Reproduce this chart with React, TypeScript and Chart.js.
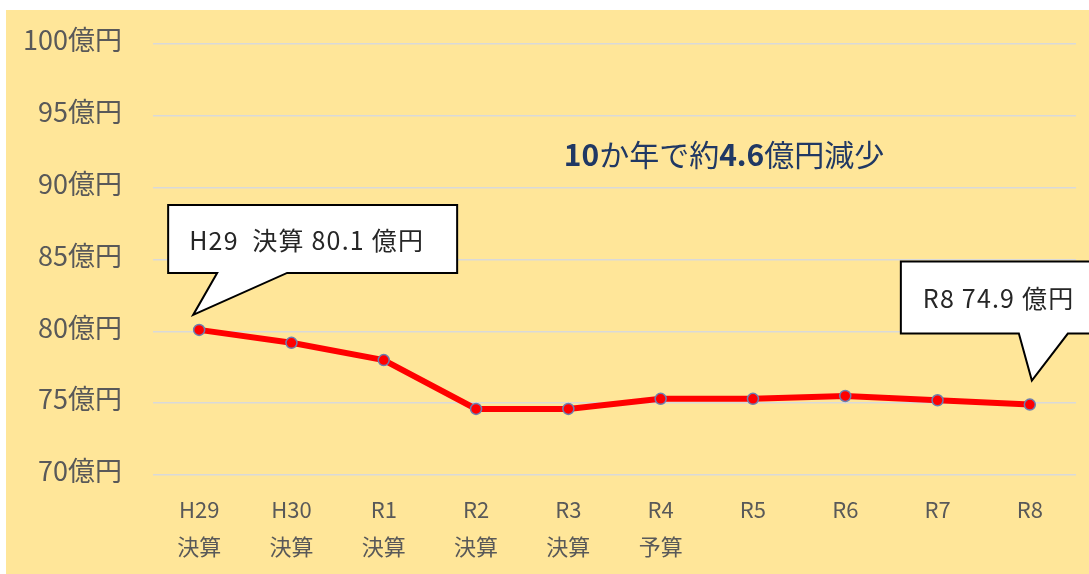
import React, { useEffect, useRef } from 'react';
import { Chart, registerables } from 'chart.js';

Chart.register(...registerables);

// ---- data ----
const categories: string[][] = [
  ['H29', '決算'],
  ['H30', '決算'],
  ['R1', '決算'],
  ['R2', '決算'],
  ['R3', '決算'],
  ['R4', '予算'],
  ['R5'],
  ['R6'],
  ['R7'],
  ['R8'],
];
const values: number[] = [80.1, 79.2, 78.0, 74.6, 74.6, 75.3, 75.3, 75.5, 75.2, 74.9];
const yMin = 70;
const yMax = 100;
const yStep = 5;
const yUnit = '億円';
const titleSegments = [
  { text: '10', bold: true },
  { text: 'か年で約', bold: false },
  { text: '4.6', bold: true },
  { text: '億円減少', bold: false },
];
const calloutIndices = [0, 9];
const calloutTexts = ['H29  決算 80.1 億円', 'R8 74.9 億円'];

const FONT = "'Noto Sans CJK JP', 'Noto Sans', sans-serif";

// callout geometry relative to the anchored data point (pixels)
const calloutGeom = [
  { l: -31, r: 258, t: -125, b: -57, b1: 18, b2: 88, tipX: -6, tipY: -15, tx: -10, ty: -89 },
  { l: -129, r: 80, t: -143, b: -71, b1: -11, b2: 38, tipX: 2, tipY: -24, tx: -107, ty: -106 },
];

const annotationPlugin = {
  id: 'annotations',
  afterDraw(chart: any) {
    const { ctx, chartArea, scales } = chart;
    const x = scales.x;
    const y = scales.y;
    ctx.save();
    // title text
    let total = 0;
    const widths = titleSegments.map((s) => {
      ctx.font = `${s.bold ? 'bold ' : ''}30px ${FONT}`;
      const w = ctx.measureText(s.text).width;
      total += w;
      return w;
    });
    let cx = chartArea.left + 571 - total / 2;
    const cy = chartArea.top + 111;
    ctx.fillStyle = '#203864';
    ctx.textBaseline = 'middle';
    ctx.textAlign = 'left';
    titleSegments.forEach((s, i) => {
      ctx.font = `${s.bold ? 'bold ' : ''}30px ${FONT}`;
      ctx.fillText(s.text, cx, cy);
      cx += widths[i];
    });

    // callouts
    calloutIndices.forEach((idx, i) => {
      const g = calloutGeom[i];
      const px = x.getPixelForValue(idx);
      const py = y.getPixelForValue(values[idx]);
      ctx.beginPath();
      ctx.moveTo(px + g.l, py + g.t);
      ctx.lineTo(px + g.r, py + g.t);
      ctx.lineTo(px + g.r, py + g.b);
      ctx.lineTo(px + g.b2, py + g.b);
      ctx.lineTo(px + g.tipX, py + g.tipY);
      ctx.lineTo(px + g.b1, py + g.b);
      ctx.lineTo(px + g.l, py + g.b);
      ctx.closePath();
      ctx.fillStyle = '#ffffff';
      ctx.fill();
      ctx.lineWidth = 2;
      ctx.lineJoin = 'miter';
      ctx.strokeStyle = '#000000';
      ctx.stroke();
      ctx.fillStyle = '#262626';
      ctx.font = `25px ${FONT}`;
      (ctx as any).letterSpacing = '1.2px';
      ctx.textAlign = 'left';
      ctx.textBaseline = 'middle';
      ctx.fillText(calloutTexts[i], px + g.tx, py + g.ty);
      (ctx as any).letterSpacing = '0px';
    });
    ctx.restore();
  },
};

export default function App() {
  const canvasRef = useRef<HTMLCanvasElement | null>(null);

  useEffect(() => {
    if (!canvasRef.current) return;
    const chart = new Chart(canvasRef.current, {
      type: 'line',
      data: {
        labels: categories,
        datasets: [
          {
            data: values,
            borderColor: '#FF0000',
            borderWidth: 6,
            backgroundColor: '#FF0000',
            pointBackgroundColor: '#FF0000',
            pointBorderColor: '#6C7FB0',
            pointBorderWidth: 1.5,
            pointRadius: 5.5,
            tension: 0,
            fill: false,
          },
        ],
      },
      options: {
        responsive: false,
        animation: false,
        layout: { padding: { top: 34, right: 13, left: 0, bottom: 0 } },
        plugins: {
          legend: { display: false },
          tooltip: { enabled: false },
          title: { display: false },
        },
        scales: {
          x: {
            type: 'category',
            offset: true,
            grid: { display: false, drawTicks: false },
            border: { display: false },
            ticks: {
              color: '#595959',
              font: { family: FONT, size: 22, lineHeight: '37px' } as any,
              padding: 16,
              maxRotation: 0,
              autoSkip: false,
            },
            afterFit: (scale: any) => {
              scale.height = 99;
              scale.paddingLeft = 0;
              scale.paddingRight = 0;
            },
          },
          y: {
            min: yMin,
            max: yMax,
            grid: { color: '#D9D9D9', lineWidth: 1.5, drawTicks: false },
            border: { display: false },
            ticks: {
              stepSize: yStep,
              color: '#595959',
              font: { family: FONT, size: 27 },
              padding: 31,
              labelOffset: -4,
              callback: (v: any) => `${v}${yUnit}`,
            },
            afterFit: (scale: any) => {
              scale.width = 147;
              scale.paddingTop = 0;
              scale.paddingBottom = 0;
            },
          },
        },
      },
      plugins: [annotationPlugin],
    });
    return () => chart.destroy();
  }, []);

  return (
    <div
      style={{
        position: 'absolute',
        left: 6,
        top: 10,
        width: 1083,
        height: 564,
        background: '#FFE699',
      }}
    >
      <canvas ref={canvasRef} width={1083} height={564} style={{ display: 'block' }} />
    </div>
  );
}
